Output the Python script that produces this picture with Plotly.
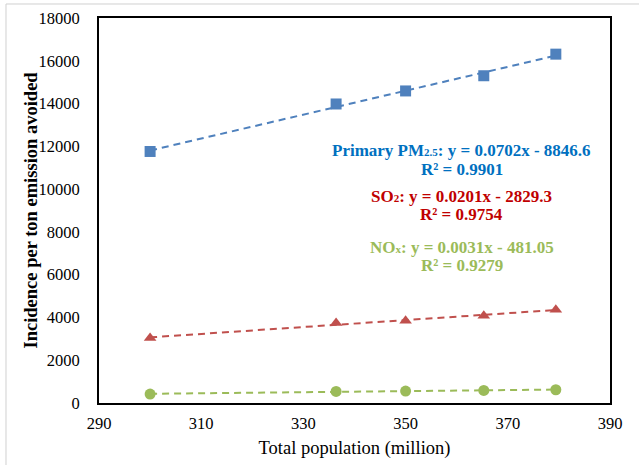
import numpy as np
import plotly.graph_objects as go

# Data
population = [300.0, 336.4, 350.0, 365.3, 379.4]
pm25 = [11760, 13980, 14590, 15300, 16310]
so2 = [3040, 3740, 3850, 4080, 4360]
nox = [420, 540, 560, 590, 620]

series_names = ["Primary PM2.5", "SO2", "NOx"]
marker_colors = ["#4F81BD", "#C0504D", "#9BBB59"]
text_colors = ["#0070C0", "#C00000", "#9BBB59"]
marker_symbols = ["square", "triangle-up", "circle"]

SUB = '<span style="font-size:11px">{}</span>'
eq_lines = [
    "Primary PM" + SUB.format("2.5") + ": y = 0.0702x - 8846.6",
    "SO" + SUB.format("2") + ": y = 0.0201x - 2829.3",
    "NO" + SUB.format("x") + ": y = 0.0031x - 481.05",
]
r2_lines = ["R² = 0.9901", "R² = 0.9754", "R² = 0.9279"]
label_x = 361.0
eq_y = [11800, 9660, 7280]
r2_y = [10930, 8790, 6410]

x_ticks = [290, 310, 330, 350, 370, 390]
y_ticks = list(range(0, 18001, 2000))
x_title = "Total population (million)"
y_title = "Incidence per ton emission avoided"

FONT = "Liberation Serif, Times New Roman, serif"

fig = go.Figure()
xs = np.array(population)
for name, ys, mc, sym in zip(series_names, [pm25, so2, nox], marker_colors, marker_symbols):
    ys = np.array(ys, dtype=float)
    slope, icpt = np.polyfit(xs, ys, 1)
    xl = np.array([xs.min(), xs.max()])
    fig.add_trace(go.Scatter(x=xl, y=slope * xl + icpt, mode="lines",
                             line=dict(color=mc, width=2, dash="7px,5px"),
                             showlegend=False, hoverinfo="skip"))
    fig.add_trace(go.Scatter(x=xs, y=ys, mode="markers", name=name,
                             marker=dict(symbol=sym, color=mc, size=11, line=dict(width=0)),
                             showlegend=False))

for eq, r2, ey, ry, tc in zip(eq_lines, r2_lines, eq_y, r2_y, text_colors):
    fig.add_annotation(x=label_x, y=ey, text="<b>" + eq + "</b>", showarrow=False,
                       font=dict(family=FONT, size=17, color=tc), xanchor="center", yanchor="middle")
    fig.add_annotation(x=label_x, y=ry, text="<b>" + r2 + "</b>", showarrow=False,
                       font=dict(family=FONT, size=17, color=tc), xanchor="center", yanchor="middle")

# y axis title placed as a rotated annotation
fig.add_annotation(xref="paper", yref="paper", x=-0.135, y=0.5, text="<b>" + y_title + "</b>",
                   textangle=-90, showarrow=False, xanchor="center", yanchor="middle",
                   font=dict(family=FONT, size=18.5, color="black"))

# light outer border (top and left edges)
fig.add_shape(type="line", xref="paper", yref="paper", x0=-0.182, x1=1.1, y0=1.0364, y1=1.0364,
              line=dict(color="#D0D0D0", width=1))
fig.add_shape(type="line", xref="paper", yref="paper", x0=-0.182, x1=-0.182, y0=-0.17, y1=1.0364,
              line=dict(color="#D0D0D0", width=1))

fig.update_layout(
    width=639, height=465,
    margin=dict(l=99, r=29, t=18, b=62),
    plot_bgcolor="white", paper_bgcolor="white",
    font=dict(family=FONT, size=16.5, color="black"),
)
fig.update_xaxes(range=[290, 390], tickvals=x_ticks, tickformat="d", showgrid=False, zeroline=False,
                 showline=True, linecolor="black", linewidth=2, mirror=True,
                 ticks="", ticklabelstandoff=4,
                 title=dict(text=x_title, font=dict(family=FONT, size=18.5), standoff=9),
                 automargin=False)
fig.update_yaxes(range=[0, 18000], tickvals=y_ticks, tickformat="d", showgrid=False, zeroline=False,
                 showline=True, linecolor="black", linewidth=2, mirror=True,
                 ticks="", ticklabelstandoff=14, automargin=False)

fig.write_html("out.html", config={"displayModeBar": False},
               post_script="document.body.style.margin='0';")
